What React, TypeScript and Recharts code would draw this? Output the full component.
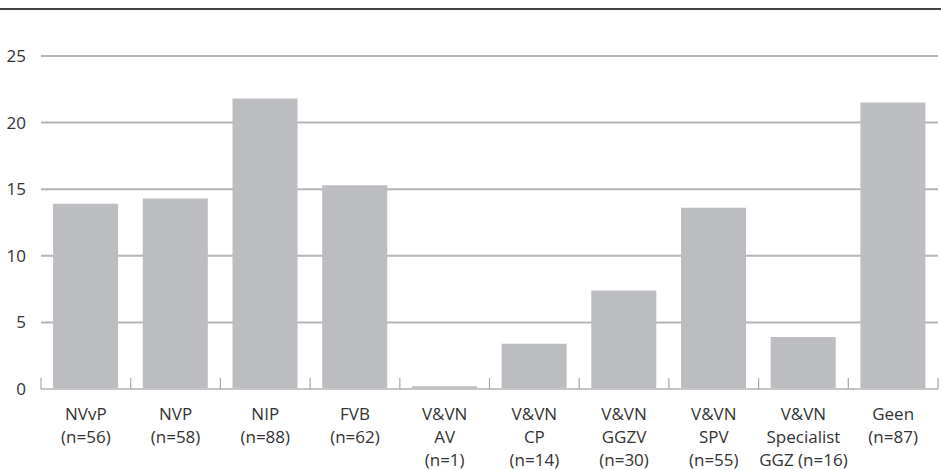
import React from "react";
import { BarChart, Bar, XAxis, YAxis, CartesianGrid } from "recharts";

const categories: string[][] = [
  ["NVvP", "(n=56)"],
  ["NVP", "(n=58)"],
  ["NIP", "(n=88)"],
  ["FVB", "(n=62)"],
  ["V&VN", "AV", "(n=1)"],
  ["V&VN", "CP", "(n=14)"],
  ["V&VN", "GGZV", "(n=30)"],
  ["V&VN", "SPV", "(n=55)"],
  ["V&VN", "Specialist", "GGZ (n=16)"],
  ["Geen", "(n=87)"],
];
const values: number[] = [13.9, 14.3, 21.8, 15.3, 0.2, 3.4, 7.4, 13.6, 3.9, 21.5];
const yTicks: number[] = [0, 5, 10, 15, 20, 25];

const data = categories.map((lines, i) => ({ key: lines.join(" "), idx: i, value: values[i] }));

const FONT = "'Open Sans', sans-serif";
const TEXT = "#333333";

const CatTick = (props: any) => {
  const { x, y, payload, width, index } = props;
  const i = payload.index ?? index ?? data.findIndex((d) => d.key === payload.value);
  const lines = categories[i] ?? [];
  const band = (width ?? 897) / categories.length;
  const left = x - band / 2;
  const right = x + band / 2;
  return (
    <g>
      <line x1={left} x2={left} y1={y - 11} y2={y} stroke="#a8a8a8" strokeWidth={1.2} />
      {i === categories.length - 1 && (
        <line x1={right} x2={right} y1={y - 11} y2={y} stroke="#a8a8a8" strokeWidth={1.2} />
      )}
      <text x={x} y={y} textAnchor="middle" fill={TEXT} fontSize={17} fontFamily={FONT}>
        {lines.map((l, k) => (
          <tspan key={k} x={x} dy={k === 0 ? 31 : 23}>
            {l}
          </tspan>
        ))}
      </text>
    </g>
  );
};

export default function App() {
  return (
    <div style={{ position: "absolute", left: 0, top: 0, width: 941, height: 470, background: "#fff" }}>
      <div style={{ position: "absolute", left: 0, top: 8, width: 941, height: 2, background: "#444" }} />
      <BarChart
        width={941}
        height={470}
        data={data}
        margin={{ top: 56, right: 3, bottom: 0, left: 0 }}
        barCategoryGap="13.5%"
      >
        <CartesianGrid vertical={false} stroke="#b5b5b5" strokeWidth={2} />
        <XAxis
          dataKey="key"
          height={81}
          interval={0}
          tickLine={false}
          tickSize={0}
          tickMargin={0}
          axisLine={{ stroke: "#c4c4c4", strokeWidth: 2 }}
          tick={<CatTick />}
        />
        <YAxis
          width={41}
          domain={[0, 25]}
          ticks={yTicks}
          axisLine={false}
          tickLine={false}
          tickSize={0}
          tickMargin={15}
          tick={{ fill: TEXT, fontSize: 17, fontFamily: FONT }}
        />
        <Bar dataKey="value" fill="#bcbdc0" isAnimationActive={false} />
      </BarChart>
    </div>
  );
}
